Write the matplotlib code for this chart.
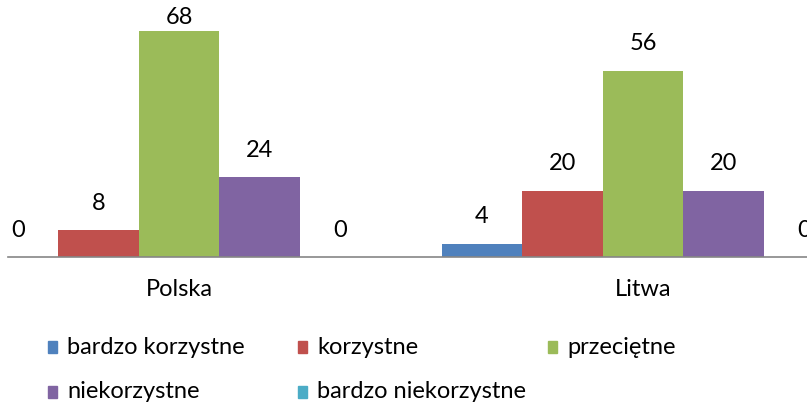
import numpy as np
import matplotlib.pyplot as plt
from matplotlib.patches import Rectangle

plt.rcParams['font.family'] = ['Lato', 'DejaVu Sans']

# dane
kraje = ['Polska', 'Litwa']
serie = ['bardzo korzystne', 'korzystne', 'przeciętne', 'niekorzystne', 'bardzo niekorzystne']
bardzo_korzystne = [0, 4]
korzystne = [8, 20]
przecietne = [68, 56]
niekorzystne = [24, 20]
bardzo_niekorzystne = [0, 0]
kolory = ['#4F81BD', '#C0504D', '#9BBB59', '#8064A2', '#4BACC6']

wartosci = [bardzo_korzystne, korzystne, przecietne, niekorzystne, bardzo_niekorzystne]

fig = plt.figure(figsize=(8.07, 4.07), dpi=100)
ax = fig.add_axes([8 / 807, 1 - 257 / 407, 1 - 8 / 807, 257 / 407])

x = np.arange(len(kraje))
w = 80.5 / 464
for i, (vals, kol) in enumerate(zip(wartosci, kolory)):
    pos = x + (i - 2) * w
    ax.bar(pos, vals, width=w, color=kol, label=serie[i])
    for p, v in zip(pos, vals):
        ax.text(p, min(v + 8.1, 72.2), str(v), ha='center', va='center',
                fontsize=17, color='#000000')

ax.set_xlim(-171 / 464, 628 / 464)
ax.set_ylim(0, 257 / 3.324)
ax.set_xticks(x)
ax.set_xticklabels(kraje, fontsize=17)
ax.tick_params(axis='x', length=0, pad=16, colors='#000000')
ax.set_yticks([])
for s in ['top', 'right', 'left']:
    ax.spines[s].set_visible(False)
ax.spines['bottom'].set_color('#868686')
ax.spines['bottom'].set_linewidth(1.2)

# legenda
for i, (nazwa, kol) in enumerate(zip(serie, kolory)):
    col = i % 3
    row = i // 3
    lx = 48 + 250 * col
    ly = 347 + 45 * row
    fig.patches.append(Rectangle((lx / 807, 1 - (ly + 6) / 407), 9 / 807, 12 / 407,
                                 transform=fig.transFigure, color=kol))
    fig.text((lx + 19) / 807, 1 - ly / 407, nazwa, ha='left', va='center', fontsize=17)

plt.savefig('out.png', dpi=100)
